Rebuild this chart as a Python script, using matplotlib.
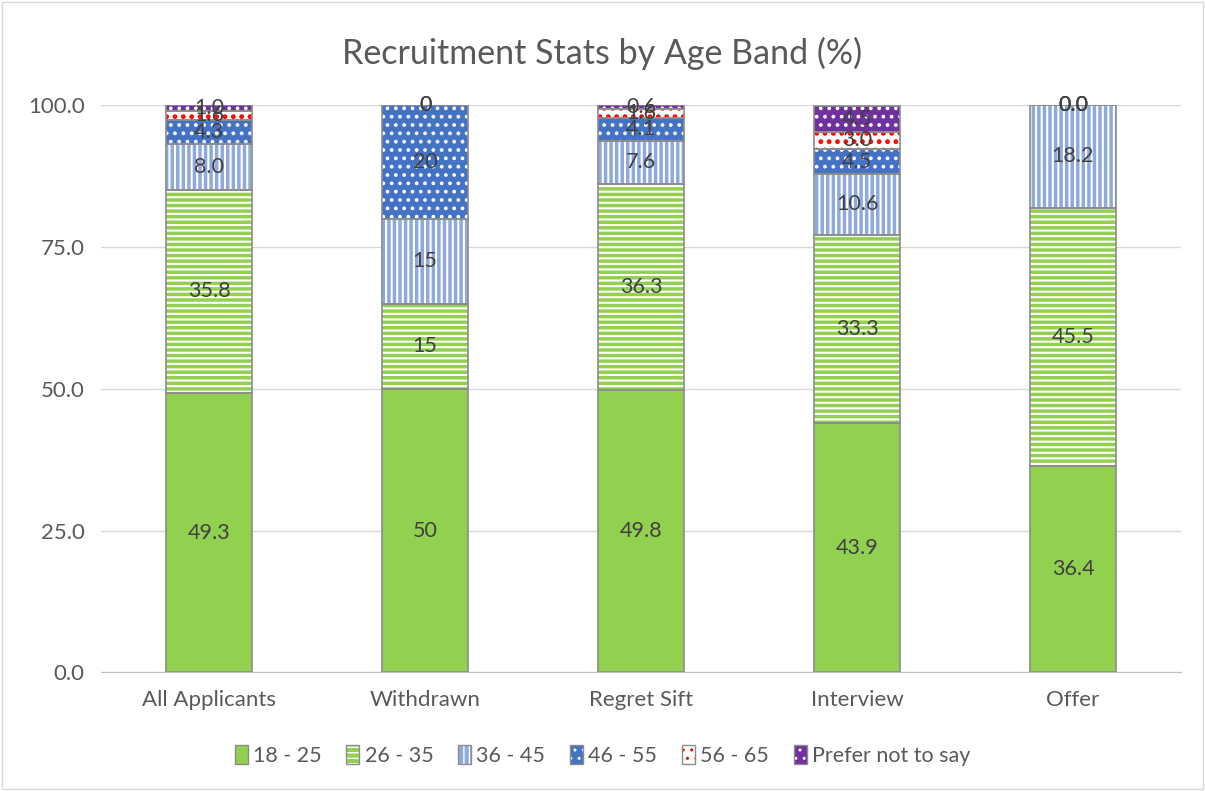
import numpy as np
import matplotlib.pyplot as plt
from matplotlib.patches import Rectangle
from matplotlib.legend_handler import HandlerTuple

plt.rcParams['font.family'] = ['Lato', 'DejaVu Sans']

categories = ['All Applicants', 'Withdrawn', 'Regret Sift', 'Interview', 'Offer']
bands = ['18 - 25', '26 - 35', '36 - 45', '46 - 55', '56 - 65', 'Prefer not to say']

age_18_25 = [49.3, 50, 49.8, 43.9, 36.4]
age_26_35 = [35.8, 15, 36.3, 33.3, 45.5]
age_36_45 = [8.0, 15, 7.6, 10.6, 18.2]
age_46_55 = [4.3, 20, 4.1, 4.5, 0.0]
age_56_65 = [1.6, 0, 1.6, 3.0, 0.0]
prefer_not = [1.0, 0, 0.6, 4.5, 0.0]
decimals = [1, 0, 1, 1, 1]

series = [age_18_25, age_26_35, age_36_45, age_46_55, age_56_65, prefer_not]

# face colour, hatch, hatch colour, hatch linewidth
styles = [
    ('#92D050', None, None, 1.0),
    ('#92D050', '---', 'white', 1.5),
    ('#8EA9DB', '|||', 'white', 1.5),
    ('#4472C4', '..', 'white', 1.5),
    ('white', '..', '#FF0000', 2.2),
    ('#7030A0', '..', 'white', 1.5),
]


def hatched(fc, hatch, hc, hlw):
    with plt.rc_context({'hatch.linewidth': hlw}):
        p = Rectangle((0, 0), 1, 1, facecolor=fc, hatch=hatch,
                      edgecolor=hc if hatch else 'none', linewidth=0)
    if hasattr(p, 'set_hatch_linewidth'):
        p.set_hatch_linewidth(hlw)
    return p


fig = plt.figure(figsize=(12.05, 7.91), dpi=100)
ax = fig.add_axes([0.084, 0.150, 0.896, 0.717])

x = np.arange(len(categories))
width = 0.4
bottom = np.zeros(len(categories))
for vals, (fc, hatch, hc, hlw) in zip(series, styles):
    vals = np.array(vals, dtype=float)
    with plt.rc_context({'hatch.linewidth': hlw}):
        if hatch:
            bars = ax.bar(x, vals, width, bottom=bottom, color=fc, hatch=hatch,
                          edgecolor=hc, linewidth=0, zorder=2)
        else:
            bars = ax.bar(x, vals, width, bottom=bottom, color=fc, linewidth=0, zorder=2)
    for b in bars:
        if hasattr(b, 'set_hatch_linewidth'):
            b.set_hatch_linewidth(hlw)
    ax.bar(x, vals, width, bottom=bottom, fill=False, edgecolor='#8C8C8C',
           linewidth=1.2, zorder=3)
    for i in range(len(categories)):
        label = f'{vals[i]:.{decimals[i]}f}'
        ax.text(x[i], bottom[i] + vals[i] / 2, label, ha='center', va='center',
                fontsize=15.5, color='#404040', zorder=4)
    bottom += vals

ax.set_xlim(-0.5, len(categories) - 0.5)
ax.set_ylim(0, 100)
ax.set_yticks([0, 25, 50, 75, 100])
ax.set_yticklabels([f'{v:.1f}' for v in [0, 25, 50, 75, 100]])
ax.set_xticks(x)
ax.set_xticklabels(categories)
ax.tick_params(axis='both', length=0, labelsize=16, labelcolor='#595959')
ax.tick_params(axis='x', pad=13)
ax.tick_params(axis='y', pad=12)
ax.yaxis.grid(True, color='#D9D9D9', linewidth=1, zorder=0)
ax.set_axisbelow(True)
for s in ['top', 'right', 'left']:
    ax.spines[s].set_visible(False)
ax.spines['bottom'].set_color('#BFBFBF')

fig.text(0.5, 0.933, 'Recruitment Stats by Age Band (%)', ha='center', va='center',
         fontsize=24.5, color='#595959')

handles = []
for fc, hatch, hc, hlw in styles:
    inner = hatched(fc, hatch, hc, hlw)
    outline = Rectangle((0, 0), 1, 1, fill=False, edgecolor='#8C8C8C', linewidth=1)
    handles.append((inner, outline))
fig.legend(handles, bands, loc='center', bbox_to_anchor=(0.5, 0.045), ncol=6,
           frameon=False, fontsize=15.5, handlelength=0.6, handleheight=1.0,
           handletextpad=0.25, columnspacing=1.15, labelcolor='#595959',
           handler_map={tuple: HandlerTuple(ndivide=1, pad=0)})

fig.patches.append(Rectangle((0.002, 0.003), 0.996, 0.994, transform=fig.transFigure,
                             fill=False, edgecolor='#D9D9D9', linewidth=1))

fig.savefig('out.png', dpi=100)
